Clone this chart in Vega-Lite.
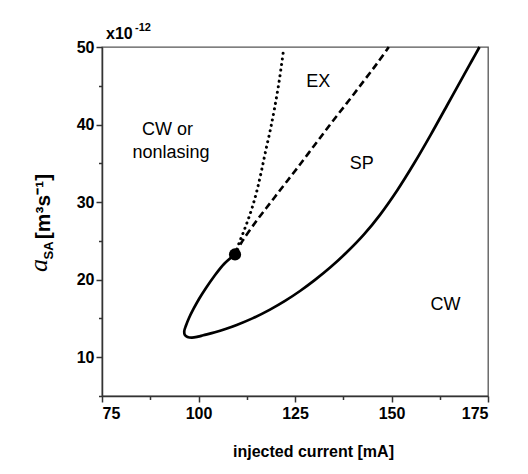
{
  "$schema": "https://vega.github.io/schema/vega-lite/v6.json",
  "width": 386,
  "height": 349,
  "autosize": {"type": "none"},
  "padding": {"left": 102, "top": 47, "right": 40, "bottom": 78},
  "background": "white",
  "datasets": {
    "solid": [
      {"x": 109.46, "y": 23.25, "o": 1},
      {"x": 106.61, "y": 22.02, "o": 2},
      {"x": 104.02, "y": 20.41, "o": 3},
      {"x": 101.94, "y": 18.93, "o": 4},
      {"x": 100.13, "y": 17.51, "o": 5},
      {"x": 98.70, "y": 16.22, "o": 6},
      {"x": 97.54, "y": 15.06, "o": 7},
      {"x": 96.76, "y": 14.09, "o": 8},
      {"x": 96.32, "y": 13.38, "o": 9},
      {"x": 96.45, "y": 12.89, "o": 10},
      {"x": 97.15, "y": 12.61, "o": 11},
      {"x": 98.32, "y": 12.52, "o": 12},
      {"x": 99.87, "y": 12.65, "o": 13},
      {"x": 101.24, "y": 12.83, "o": 14},
      {"x": 104.27, "y": 13.22, "o": 15},
      {"x": 106.99, "y": 13.64, "o": 16},
      {"x": 109.90, "y": 14.16, "o": 17},
      {"x": 114.12, "y": 15.04, "o": 18},
      {"x": 118.52, "y": 16.14, "o": 19},
      {"x": 122.41, "y": 17.26, "o": 20},
      {"x": 126.30, "y": 18.54, "o": 21},
      {"x": 130.18, "y": 19.97, "o": 22},
      {"x": 134.25, "y": 21.63, "o": 23},
      {"x": 138.47, "y": 23.56, "o": 24},
      {"x": 142.88, "y": 25.84, "o": 25},
      {"x": 147.02, "y": 28.36, "o": 26},
      {"x": 151.50, "y": 31.53, "o": 27},
      {"x": 155.83, "y": 34.97, "o": 28},
      {"x": 160.15, "y": 38.67, "o": 29},
      {"x": 164.38, "y": 42.46, "o": 30},
      {"x": 168.78, "y": 46.40, "o": 31},
      {"x": 170.85, "y": 48.26, "o": 32},
      {"x": 172.80, "y": 50.0, "o": 33}
    ],
    "dashed": [
      {"x": 109.46, "y": 23.25, "o": 1},
      {"x": 111.4, "y": 25.0, "o": 2},
      {"x": 115.2, "y": 27.7, "o": 3},
      {"x": 118.6, "y": 29.9, "o": 4},
      {"x": 122.0, "y": 32.1, "o": 5},
      {"x": 125.6, "y": 34.4, "o": 6},
      {"x": 130.0, "y": 37.3, "o": 7},
      {"x": 134.4, "y": 40.2, "o": 8},
      {"x": 138.8, "y": 43.0, "o": 9},
      {"x": 143.1, "y": 45.8, "o": 10},
      {"x": 146.3, "y": 47.9, "o": 11},
      {"x": 149.3, "y": 50.0, "o": 12}
    ],
    "dotted": [
      {"x": 109.46, "y": 23.25, "o": 1},
      {"x": 110.5, "y": 24.7, "o": 2},
      {"x": 111.7, "y": 26.2, "o": 3},
      {"x": 112.9, "y": 27.8, "o": 4},
      {"x": 114.1, "y": 29.6, "o": 5},
      {"x": 115.2, "y": 31.6, "o": 6},
      {"x": 116.3, "y": 34.0, "o": 7},
      {"x": 117.4, "y": 36.6, "o": 8},
      {"x": 118.6, "y": 39.3, "o": 9},
      {"x": 119.7, "y": 42.1, "o": 10},
      {"x": 120.9, "y": 45.6, "o": 11},
      {"x": 122.0, "y": 49.5, "o": 12}
    ],
    "point": [{"x": 109.46, "y": 23.25}],
    "labels": [
      {"x": 92.0, "y": 39.3, "t": "CW or"},
      {"x": 92.9, "y": 36.3, "t": "nonlasing"},
      {"x": 131.0, "y": 45.5, "t": "EX"},
      {"x": 142.3, "y": 34.9, "t": "SP"},
      {"x": 164.0, "y": 16.7, "t": "CW"}
    ],
    "mult": [{"x": 75, "y": 50, "t": "x10"}],
    "expo": [{"x": 75, "y": 50, "t": "-12"}]
  },
  "layer": [
    {
      "data": {"name": "solid"},
      "mark": {"type": "line", "color": "black", "strokeWidth": 2.7, "interpolate": "catmull-rom"},
      "encoding": {
        "x": {"field": "x", "type": "quantitative", "scale": {"domain": [75, 175], "nice": false, "zero": false},
          "axis": {"values": [75, 87.5, 100, 112.5, 125, 137.5, 150, 162.5, 175], "labelExpr": "datum.value % 25 === 0 ? datum.label : ''", "labelOverlap": false, "tickSize": {"condition": {"test": "datum.value % 25 !== 0", "value": 3.5}, "value": 6}, "labelPadding": 3, "grid": false, "title": "injected current [mA]", "titleFont": "Liberation Sans", "titleFontSize": 16, "titleFontWeight": "bold", "titleColor": "black", "titleX": 211, "titleY": 60, "titleBaseline": "alphabetic", "titleAlign": "center"}},
        "y": {"field": "y", "type": "quantitative", "scale": {"domain": [5, 50], "nice": false, "zero": false},
          "axis": {"orient": "left", "values": [5, 10, 15, 20, 25, 30, 35, 40, 45, 50], "labelExpr": "datum.value % 10 === 0 ? datum.label : ''", "labelOverlap": false, "tickSize": {"condition": {"test": "datum.value % 10 !== 0", "value": 3.5}, "value": 6}, "labelPadding": 2, "grid": false, "title": "[m³s⁻¹]", "titleFont": "Liberation Sans", "titleFontSize": 21, "titleFontWeight": "bold", "titleColor": "black", "titleAngle": -90, "titleX": -53, "titleY": 159, "titleAlign": "center", "titleBaseline": "alphabetic"}},
        "order": {"field": "o", "type": "quantitative"}
      }
    },
    {
      "data": {"name": "dashed"},
      "mark": {"type": "line", "color": "black", "strokeWidth": 2.6, "strokeDash": [7, 4], "interpolate": "catmull-rom"},
      "encoding": {
        "x": {"field": "x", "type": "quantitative"},
        "y": {"field": "y", "type": "quantitative",
          "axis": {"orient": "left", "domain": false, "ticks": false, "labels": false, "grid": false, "title": "a", "titleFont": "Liberation Serif", "titleFontSize": 26, "titleFontStyle": "italic", "titleFontWeight": "normal", "titleColor": "black", "titleAngle": -90, "titleX": -56, "titleY": 218, "titleAlign": "center", "titleBaseline": "alphabetic"}},
        "order": {"field": "o", "type": "quantitative"}
      }
    },
    {
      "data": {"name": "dotted"},
      "mark": {"type": "line", "color": "black", "strokeWidth": 3, "strokeDash": [0.1, 5.5], "strokeCap": "round", "interpolate": "catmull-rom"},
      "encoding": {
        "x": {"field": "x", "type": "quantitative"},
        "y": {"field": "y", "type": "quantitative",
          "axis": {"orient": "left", "domain": false, "ticks": false, "labels": false, "grid": false, "title": "SA", "titleFont": "Liberation Sans", "titleFontSize": 13, "titleFontWeight": "bold", "titleColor": "black", "titleAngle": -90, "titleX": -50, "titleY": 203, "titleAlign": "center", "titleBaseline": "alphabetic"}},
        "order": {"field": "o", "type": "quantitative"}
      }
    },
    {
      "data": {"name": "point"},
      "mark": {"type": "circle", "color": "black", "size": 150, "opacity": 1},
      "encoding": {
        "x": {"field": "x", "type": "quantitative"},
        "y": {"field": "y", "type": "quantitative", "axis": null}
      }
    },
    {
      "data": {"name": "labels"},
      "mark": {"type": "text", "font": "Liberation Sans", "fontSize": 18, "color": "black", "align": "center", "baseline": "middle"},
      "encoding": {
        "x": {"field": "x", "type": "quantitative"},
        "y": {"field": "y", "type": "quantitative", "axis": null},
        "text": {"field": "t"}
      }
    },
    {
      "data": {"name": "mult"},
      "mark": {"type": "text", "font": "Liberation Sans", "fontSize": 16, "fontWeight": "bold", "color": "black", "align": "left", "baseline": "alphabetic", "dx": 4, "dy": -8},
      "encoding": {
        "x": {"field": "x", "type": "quantitative"},
        "y": {"field": "y", "type": "quantitative", "axis": null},
        "text": {"field": "t"}
      }
    },
    {
      "data": {"name": "expo"},
      "mark": {"type": "text", "font": "Liberation Sans", "fontSize": 11, "fontWeight": "bold", "color": "black", "align": "left", "baseline": "alphabetic", "dx": 33, "dy": -16},
      "encoding": {
        "x": {"field": "x", "type": "quantitative"},
        "y": {"field": "y", "type": "quantitative", "axis": null},
        "text": {"field": "t"}
      }
    }
  ],
  "resolve": {"axis": {"y": "independent"}},
  "config": {
    "view": {"stroke": "#555", "strokeWidth": 1.3},
    "axis": {"domainColor": "#333", "domainWidth": 1.5, "tickColor": "#333", "tickWidth": 1.5, "labelColor": "black", "labelFont": "Liberation Sans", "labelFontSize": 16, "labelFontWeight": "bold"}
  }
}
